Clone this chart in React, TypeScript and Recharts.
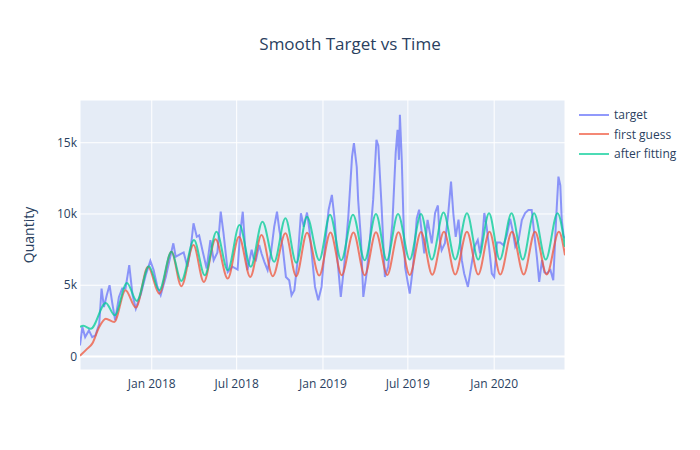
import { LineChart, Line, XAxis, YAxis, CartesianGrid, ReferenceLine } from 'recharts'

const targetDates = [
  '2017-08-01', '2017-08-06', '2017-08-12', '2017-08-20', '2017-08-27', '2017-09-03', '2017-09-11', '2017-09-16',
  '2017-09-21', '2017-09-27', '2017-10-03', '2017-10-09', '2017-10-15', '2017-10-23', '2017-10-30', '2017-11-06',
  '2017-11-14', '2017-11-21', '2017-11-28', '2017-12-09', '2017-12-19', '2017-12-29', '2018-01-05', '2018-01-13',
  '2018-01-20', '2018-01-31', '2018-02-11', '2018-02-16', '2018-02-21', '2018-03-04', '2018-03-10', '2018-03-18',
  '2018-03-25', '2018-03-31', '2018-04-07', '2018-04-12', '2018-04-19', '2018-04-28', '2018-05-06', '2018-05-13',
  '2018-05-21', '2018-05-28', '2018-06-03', '2018-06-12', '2018-06-22', '2018-07-03', '2018-07-08', '2018-07-14',
  '2018-07-19', '2018-07-24', '2018-08-02', '2018-08-06', '2018-08-11', '2018-08-18', '2018-08-23', '2018-08-29',
  '2018-09-05', '2018-09-12', '2018-09-19', '2018-09-25', '2018-09-30', '2018-10-07', '2018-10-14', '2018-10-21',
  '2018-10-26', '2018-11-01', '2018-11-08', '2018-11-15', '2018-11-21', '2018-11-28', '2018-12-03', '2018-12-10',
  '2018-12-15', '2018-12-22', '2018-12-29', '2019-01-05', '2019-01-13', '2019-01-20', '2019-01-26', '2019-02-01',
  '2019-02-08', '2019-02-15', '2019-02-24', '2019-03-04', '2019-03-08', '2019-03-14', '2019-03-17', '2019-03-23',
  '2019-03-28', '2019-04-04', '2019-04-11', '2019-04-18', '2019-04-25', '2019-04-29', '2019-05-06', '2019-05-13',
  '2019-05-20', '2019-05-29', '2019-06-05', '2019-06-09', '2019-06-12', '2019-06-14', '2019-06-18', '2019-06-21',
  '2019-06-25', '2019-07-05', '2019-07-12', '2019-07-20', '2019-07-25', '2019-07-30', '2019-08-05', '2019-08-12',
  '2019-08-21', '2019-08-28', '2019-09-03', '2019-09-07', '2019-09-11', '2019-09-18', '2019-09-25', '2019-10-01',
  '2019-10-06', '2019-10-11', '2019-10-17', '2019-10-24', '2019-10-29', '2019-11-06', '2019-11-13', '2019-11-20',
  '2019-11-27', '2019-12-02', '2019-12-07', '2019-12-11', '2019-12-16', '2019-12-21', '2019-12-27', '2020-01-01',
  '2020-01-07', '2020-01-14', '2020-01-21', '2020-01-28', '2020-02-04', '2020-02-09', '2020-02-15', '2020-02-22',
  '2020-02-29', '2020-03-07', '2020-03-14', '2020-03-21', '2020-03-27', '2020-04-01', '2020-04-06', '2020-04-12',
  '2020-04-17', '2020-04-22', '2020-04-30', '2020-05-06', '2020-05-12', '2020-05-17', '2020-05-21', '2020-05-24',
  '2020-05-28', '2020-05-31',
]
const targetValues = [
  770, 2070, 1360, 1830, 1360, 1480, 2300, 4770,
  3470, 4300, 5000, 3710, 2540, 4180, 4770, 4770,
  6410, 4300, 3360, 4410, 5700, 6710, 6060, 4880,
  4300, 5600, 7230, 7940, 7000, 7200, 7300, 6290,
  7600, 9350, 8400, 8500, 7460, 6180, 8170, 6760,
  7300, 10160, 8640, 5940, 6300, 6100, 8500, 10160,
  7700, 6060, 7500, 6900, 6760, 7820, 7230, 6640,
  6060, 7230, 9100, 10160, 8870, 7700, 5580, 5350,
  4300, 4650, 6760, 10050, 9100, 10100, 8900, 6530,
  4880, 3940, 4880, 7700, 10280, 11340, 9580, 6760,
  4180, 6290, 9810, 14030, 14980, 13300, 10990, 8200,
  4180, 5820, 8170, 10990, 15210, 14800, 10500, 5580,
  6290, 9350, 14270, 15900, 13800, 16970, 13800, 10280,
  6290, 4410, 6290, 9700, 10300, 8870, 7230, 9580,
  7940, 10070, 10600, 8200, 7460, 7950, 10000, 12270,
  10000, 8400, 9600, 6760, 5820, 4880, 6290, 7700,
  8170, 7230, 8450, 10070, 9100, 7700, 5820, 5580,
  8000, 8000, 7800, 8500, 9660, 8900, 7700, 8170,
  9580, 10070, 10280, 10280, 8450, 6990, 5230, 6760,
  5900, 5820, 6060, 5350, 9600, 12620, 12000, 9600,
  8450, 8300,
]

const guessDates = [
  '2017-08-01', '2017-08-15', '2017-08-27', '2017-09-11', '2017-09-25', '2017-10-13', '2017-11-06', '2017-11-28',
  '2017-12-24', '2018-01-17', '2018-02-12', '2018-03-05', '2018-03-31', '2018-04-22', '2018-05-17', '2018-06-12',
  '2018-07-06', '2018-07-30', '2018-08-23', '2018-09-16', '2018-10-13', '2018-11-05', '2018-11-28', '2018-12-24',
  '2019-01-17', '2019-02-10', '2019-03-07', '2019-03-31', '2019-04-24', '2019-05-18', '2019-06-11', '2019-07-05',
  '2019-07-29', '2019-08-22', '2019-09-16', '2019-10-10', '2019-11-04', '2019-11-28', '2019-12-22', '2020-01-14',
  '2020-02-08', '2020-03-04', '2020-03-28', '2020-04-22', '2020-05-18', '2020-05-31',
]
const guessValues = [
  50, 500, 900, 2070, 2650, 2420, 4650, 3430,
  6290, 4410, 7350, 4930, 7820, 5230, 8220, 5470,
  8400, 5580, 8520, 5630, 8640, 5630, 8680, 5680,
  8700, 5700, 8700, 5700, 8720, 5720, 8720, 5720,
  8740, 5740, 8750, 5750, 8750, 5750, 8750, 5750,
  8760, 5760, 8760, 5760, 8760, 7100,
]

const fitDates = [
  '2017-08-01', '2017-08-08', '2017-08-24', '2017-09-25', '2017-10-14', '2017-11-09', '2017-11-30', '2017-12-26',
  '2018-01-17', '2018-02-12', '2018-03-05', '2018-04-01', '2018-04-24', '2018-05-19', '2018-06-12', '2018-07-07',
  '2018-07-31', '2018-08-25', '2018-09-19', '2018-10-13', '2018-11-05', '2018-11-28', '2018-12-24', '2019-01-16',
  '2019-02-09', '2019-03-06', '2019-03-31', '2019-04-24', '2019-05-17', '2019-06-10', '2019-07-05', '2019-07-29',
  '2019-08-21', '2019-09-15', '2019-10-10', '2019-11-04', '2019-11-28', '2019-12-21', '2020-01-13', '2020-02-07',
  '2020-03-02', '2020-03-26', '2020-04-20', '2020-05-15', '2020-05-31',
]
const fitValues = [
  2070, 2150, 1950, 3750, 2890, 5160, 3900, 6340,
  4650, 7350, 5300, 8170, 5700, 8750, 6060, 9220,
  6290, 9460, 6640, 9700, 6570, 9810, 6760, 9950,
  6750, 9950, 6750, 10000, 6750, 10000, 6800, 10000,
  6800, 10100, 6810, 10050, 6800, 10050, 6800, 10050,
  6800, 10050, 6800, 10050, 7700,
]

const xTickDates = ['2018-01-01', '2018-07-01', '2019-01-01', '2019-07-01', '2020-01-01']
const xTickLabels = ['Jan 2018', 'Jul 2018', 'Jan 2019', 'Jul 2019', 'Jan 2020']
const yTicks = [0, 5000, 10000, 15000]

const seriesNames = ['target', 'first guess', 'after fitting']
const seriesColors = ['#636efa', '#EF553B', '#00cc96']

const toRows = (dates: string[], values: number[]) =>
  dates.map((d, i) => ({ t: Date.parse(d), v: values[i] }))

const targetRows = toRows(targetDates, targetValues)
const guessRows = toRows(guessDates, guessValues)
const fitRows = toRows(fitDates, fitValues)
const xTicks = xTickDates.map((d) => Date.parse(d))

const font = '"Open Sans", verdana, arial, sans-serif'
const textColor = '#2a3f5f'
const tickStyle = { fontSize: 12, fill: textColor, fontFamily: font }

function formatX(v: number) {
  const i = xTicks.indexOf(v)
  return i >= 0 ? xTickLabels[i] : ''
}

function formatY(v: number) {
  return v === 0 ? '0' : `${v / 1000}k`
}

export default function App() {
  return (
    <div style={{ position: 'relative', width: 700, height: 450, background: '#fff', fontFamily: font }}>
      <style>{'body{margin:0}'}</style>
      <div
        style={{
          position: 'absolute',
          top: 33,
          left: 0,
          width: 700,
          textAlign: 'center',
          fontSize: 17,
          color: textColor,
          lineHeight: '22px',
        }}
      >
        Smooth Target vs Time
      </div>
      <div
        style={{
          position: 'absolute',
          left: 28,
          top: 235,
          transform: 'translate(-50%, -50%) rotate(-90deg)',
          fontSize: 14,
          color: textColor,
          whiteSpace: 'nowrap',
        }}
      >
        Quantity
      </div>
      <LineChart width={700} height={450} margin={{ top: 100, right: 135, bottom: 50, left: 20 }}>
        <CartesianGrid fill="#E5ECF6" stroke="#fff" strokeWidth={1} />
        <XAxis
          type="number"
          dataKey="t"
          domain={[Date.parse('2017-08-01'), Date.parse('2020-05-31')]}
          allowDataOverflow
          ticks={xTicks}
          tickFormatter={formatX}
          tick={tickStyle}
          axisLine={false}
          tickLine={false}
          tickSize={0}
          tickMargin={9}
          height={30}
        />
        <YAxis
          type="number"
          domain={[-950, 18000]}
          allowDataOverflow
          ticks={yTicks}
          tickFormatter={formatY}
          tick={tickStyle}
          axisLine={false}
          tickLine={false}
          tickSize={0}
          tickMargin={3}
          width={60}
        />
        <ReferenceLine y={0} stroke="#fff" strokeWidth={2} />
        <Line
          data={targetRows}
          dataKey="v"
          name={seriesNames[0]}
          type="linear"
          stroke={seriesColors[0]}
          strokeOpacity={0.7}
          strokeWidth={2}
          dot={false}
          isAnimationActive={false}
        />
        <Line
          data={guessRows}
          dataKey="v"
          name={seriesNames[1]}
          type="monotone"
          stroke={seriesColors[1]}
          strokeOpacity={0.75}
          strokeWidth={2}
          dot={false}
          isAnimationActive={false}
        />
        <Line
          data={fitRows}
          dataKey="v"
          name={seriesNames[2]}
          type="monotone"
          stroke={seriesColors[2]}
          strokeOpacity={0.75}
          strokeWidth={2}
          dot={false}
          isAnimationActive={false}
        />
      </LineChart>
      <div style={{ position: 'absolute', left: 579, top: 105 }}>
        {seriesNames.map((name, i) => (
          <div key={name} style={{ display: 'flex', alignItems: 'center', height: 19.5 }}>
            <div style={{ width: 30, height: 2, background: seriesColors[i], opacity: 0.7 }} />
            <span style={{ marginLeft: 5, fontSize: 12, color: textColor }}>{name}</span>
          </div>
        ))}
      </div>
    </div>
  )
}
